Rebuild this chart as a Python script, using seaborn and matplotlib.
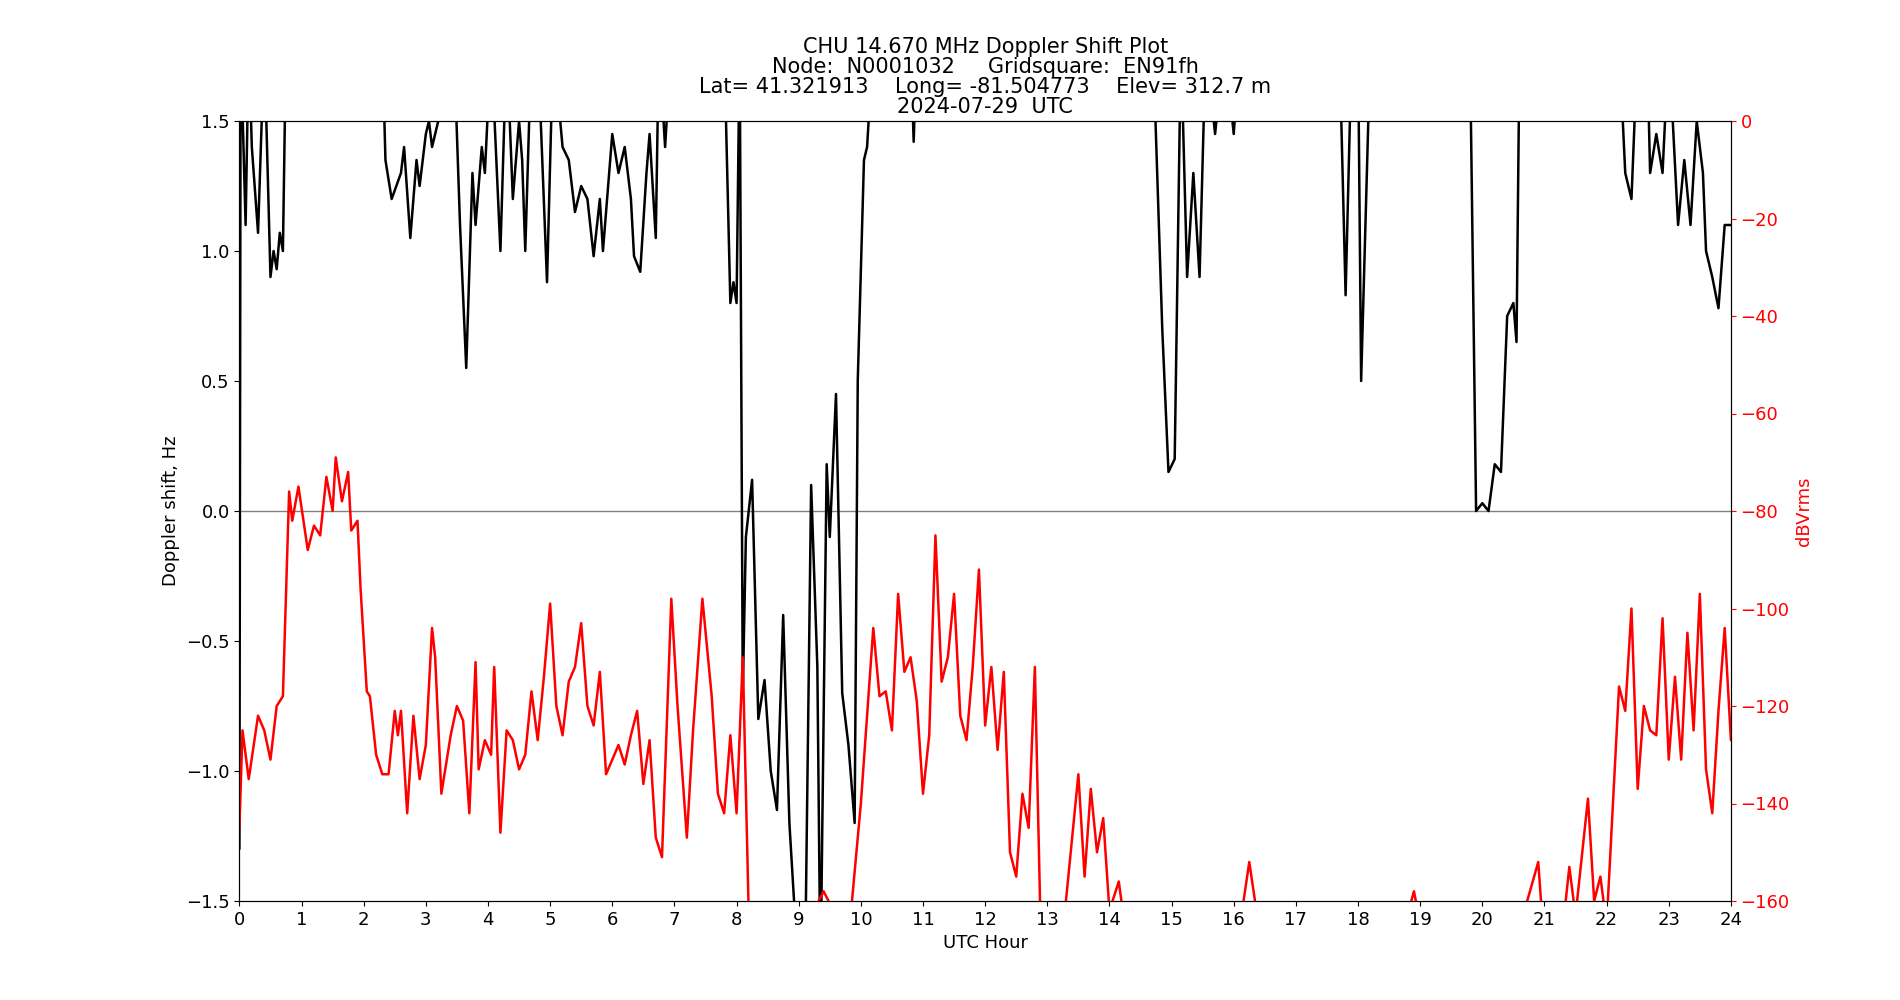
import numpy as np
import pandas as pd
import matplotlib
matplotlib.use("Agg")
import matplotlib.pyplot as plt
import seaborn as sns

# Doppler shift (Hz); 1.8 / -1.8 mark off-scale excursions
dop_hour = [0.0, 0.02, 0.1, 0.15, 0.2, 0.3, 0.4, 0.5, 0.55, 0.6, 0.65, 0.7, 0.75, 1.5, 2.3, 2.35, 2.45,
            2.6, 2.65, 2.75, 2.85, 2.9, 3.0, 3.05, 3.1, 3.2, 3.3, 3.45, 3.55, 3.65, 3.75, 3.8, 3.9,
            3.95, 4.05, 4.2, 4.3, 4.4, 4.5, 4.55, 4.6, 4.7, 4.8, 4.95, 5.05, 5.2, 5.3, 5.4, 5.5,
            5.6, 5.7, 5.8, 5.85, 6.0, 6.1, 6.2, 6.3, 6.35, 6.45, 6.55, 6.6, 6.7, 6.75, 6.85, 6.95,
            7.4, 7.8, 7.9, 7.95, 8.0, 8.05, 8.1, 8.15, 8.25, 8.35, 8.45, 8.55, 8.65, 8.75, 8.85,
            9.0, 9.1, 9.2, 9.3, 9.35, 9.45, 9.5, 9.6, 9.7, 9.8, 9.9, 9.95, 10.05, 10.1, 10.2,
            10.8, 10.85, 10.9, 12.5, 14.7, 14.85, 14.95, 15.05, 15.15, 15.25, 15.35, 15.45, 15.55,
            15.7, 15.85, 16.0, 16.1, 17.0, 17.7, 17.8, 17.9, 18.0, 18.05, 18.2, 19.0, 19.8, 19.9,
            20.0, 20.1, 20.2, 20.3, 20.4, 20.5, 20.55, 20.6, 21.5, 22.2, 22.3, 22.4, 22.5, 22.65,
            22.7, 22.8, 22.9, 23.0, 23.15, 23.25, 23.35, 23.45, 23.55, 23.6, 23.7, 23.8, 23.9, 24.0]
dop_hz = [-1.3, 1.8, 1.1, 1.8, 1.4, 1.07, 1.8, 0.9, 1.0, 0.93, 1.07, 1.0, 1.8, 1.8, 1.8, 1.35, 1.2,
          1.3, 1.4, 1.05, 1.35, 1.25, 1.45, 1.5, 1.4, 1.5, 1.8, 1.8, 1.1, 0.55, 1.3, 1.1, 1.4,
          1.3, 1.8, 1.0, 1.8, 1.2, 1.5, 1.35, 1.0, 1.8, 1.8, 0.88, 1.8, 1.4, 1.35, 1.15, 1.25,
          1.2, 0.98, 1.2, 1.0, 1.45, 1.3, 1.4, 1.2, 0.98, 0.92, 1.3, 1.45, 1.05, 1.8, 1.4, 1.8,
          1.8, 1.8, 0.8, 0.88, 0.8, 1.8, -0.7, -0.1, 0.12, -0.8, -0.65, -1.0, -1.15, -0.4, -1.2,
          -1.8, -1.8, 0.1, -0.6, -1.8, 0.18, -0.1, 0.45, -0.7, -0.9, -1.2, 0.5, 1.35, 1.4, 1.8,
          1.8, 1.42, 1.8, 1.8, 1.8, 0.7, 0.15, 0.2, 1.8, 0.9, 1.3, 0.9, 1.8,
          1.45, 1.8, 1.45, 1.8, 1.8, 1.8, 0.83, 1.8, 1.8, 0.5, 1.8, 1.8, 1.8, 0.0,
          0.03, 0.0, 0.18, 0.15, 0.75, 0.8, 0.65, 1.8, 1.8, 1.8, 1.3, 1.2, 1.8, 1.8,
          1.3, 1.45, 1.3, 1.8, 1.1, 1.35, 1.1, 1.5, 1.3, 1.0, 0.9, 0.78, 1.1, 1.1]

# Signal level (dBVrms)
lvl_hour = [0.0, 0.05, 0.15, 0.3, 0.4, 0.5, 0.6, 0.7, 0.8, 0.85, 0.95, 1.1, 1.2, 1.3, 1.4, 1.5, 1.55,
            1.65, 1.75, 1.8, 1.9, 1.95, 2.05, 2.1, 2.2, 2.3, 2.4, 2.5, 2.55, 2.6, 2.7, 2.8, 2.9,
            3.0, 3.1, 3.15, 3.25, 3.4, 3.5, 3.6, 3.7, 3.8, 3.85, 3.95, 4.05, 4.1, 4.2, 4.3, 4.4,
            4.5, 4.6, 4.7, 4.8, 4.9, 5.0, 5.1, 5.2, 5.3, 5.4, 5.5, 5.6, 5.7, 5.8, 5.9, 6.0, 6.1,
            6.2, 6.3, 6.4, 6.5, 6.6, 6.7, 6.8, 6.95, 7.05, 7.2, 7.3, 7.45, 7.6, 7.7, 7.8, 7.9,
            8.0, 8.1, 8.2, 8.6, 9.0, 9.4, 9.8, 10.0, 10.2, 10.3, 10.4, 10.5, 10.6, 10.7, 10.8,
            10.9, 11.0, 11.1, 11.2, 11.3, 11.4, 11.5, 11.6, 11.7, 11.8, 11.9, 12.0, 12.1, 12.2,
            12.3, 12.4, 12.5, 12.6, 12.7, 12.8, 12.9, 13.3, 13.5, 13.6, 13.7, 13.8, 13.9, 14.0,
            14.15, 14.3, 15.5, 16.1, 16.25, 16.4, 17.5, 18.75, 18.9, 19.05, 20.5, 20.9, 21.0,
            21.3, 21.4, 21.5, 21.7, 21.8, 21.9, 22.0, 22.2, 22.3, 22.4, 22.5, 22.6, 22.7, 22.8,
            22.9, 23.0, 23.1, 23.2, 23.3, 23.4, 23.5, 23.6, 23.7, 23.8, 23.9, 24.0]
lvl_db = [-145, -125, -135, -122, -125, -131, -120, -118, -76, -82, -75, -88, -83, -85, -73, -80, -69,
          -78, -72, -84, -82, -96, -117, -118, -130, -134, -134, -121, -126, -121, -142, -122, -135,
          -128, -104, -110, -138, -126, -120, -123, -142, -111, -133, -127, -130, -112, -146, -125, -127,
          -133, -130, -117, -127, -114, -99, -120, -126, -115, -112, -103, -120, -124, -113, -134, -131, -128,
          -132, -126, -121, -136, -127, -147, -151, -98, -120, -147, -125, -98, -118, -138, -142, -126,
          -142, -110, -165, -162, -168, -158, -168, -140, -104, -118, -117, -125, -97, -113, -110,
          -119, -138, -126, -85, -115, -110, -97, -122, -127, -112, -92, -124, -112, -129,
          -113, -150, -155, -138, -145, -112, -170, -160, -134, -155, -137, -150, -143, -162,
          -156, -170, -168, -165, -152, -165, -170, -165, -158, -168, -170, -152, -170,
          -165, -153, -163, -139, -160, -155, -165, -116, -121, -100, -137, -120, -125, -126,
          -102, -131, -114, -131, -105, -125, -97, -133, -142, -121, -104, -127]

dop = pd.DataFrame({"hour": dop_hour, "hz": dop_hz})
lvl = pd.DataFrame({"hour": lvl_hour, "db": lvl_db})

sns.set_style("ticks", {"axes.edgecolor": "black", "text.color": "black",
                        "axes.labelcolor": "black", "xtick.color": "black",
                        "ytick.color": "black"})
fig, ax = plt.subplots(figsize=(19, 10), dpi=100)
fig.subplots_adjust(left=0.126, right=0.911, top=0.879, bottom=0.099)

ax.axhline(0, color="gray", lw=1, zorder=0)
sns.lineplot(data=dop, x="hour", y="hz", ax=ax, color="black", lw=1.8, zorder=3)
ax.set_xlim(0, 24)
ax.set_ylim(-1.5, 1.5)
ax.set_xticks(range(0, 25))
ax.set_xlabel("UTC Hour", fontsize=13)
ax.set_ylabel("Doppler shift, Hz", fontsize=13)
ax.tick_params(labelsize=13)

ax2 = ax.twinx()
sns.lineplot(data=lvl, x="hour", y="db", ax=ax2, color="red", lw=1.8)
ax2.set_ylim(-160, 0)
ax2.set_ylabel("dBVrms", color="red", fontsize=13)
ax2.tick_params(axis="y", colors="red", labelsize=13)
ax2.set_xlim(0, 24)

ax.set_title("CHU 14.670 MHz Doppler Shift Plot\n"
             "Node:  N0001032     Gridsquare:  EN91fh\n"
             "Lat= 41.321913    Long= -81.504773    Elev= 312.7 m\n"
             "2024-07-29  UTC", fontsize=15, linespacing=1.0)

fig.savefig("out.png")
